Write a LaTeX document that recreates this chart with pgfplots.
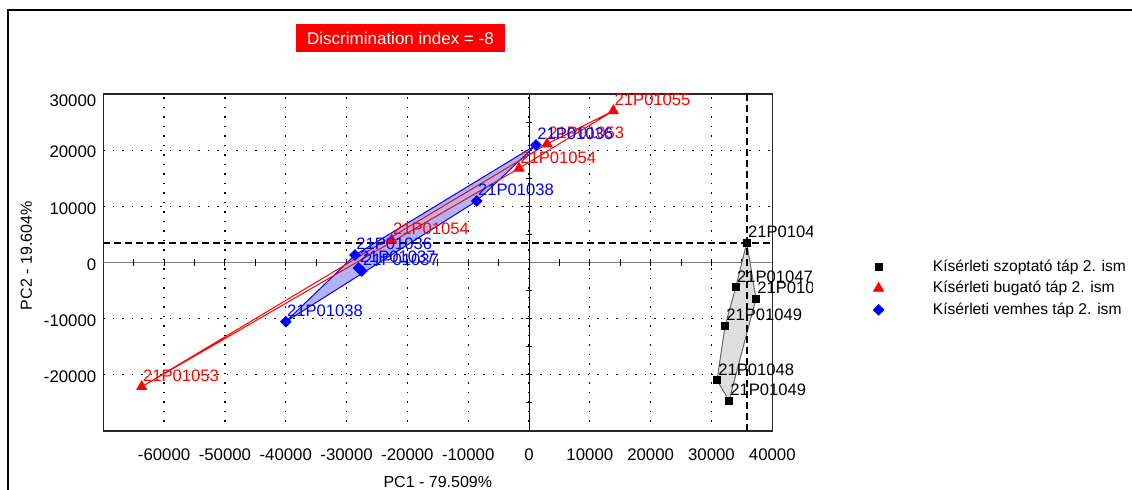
\documentclass[border=0pt]{standalone}
\usepackage{pgfplots}
\pgfplotsset{compat=1.18}
\usepackage{pgfplotstable}
\usepackage{fontspec}
\setmainfont{Liberation Sans}
\definecolor{hullblue}{RGB}{178,178,246}
\definecolor{hullgray}{RGB}{222,222,222}
\definecolor{zerogray}{RGB}{128,128,128}
\definecolor{titlered}{RGB}{255,0,0}

% Kisérleti szoptató táp 2. ism
\pgfplotstableread{
x y label
35800 3500 21P01046
33990 -4400 21P01047
37320 -6450 21P01050
32230 -11300 21P01049
30910 -20970 21P01048
32880 -24600 21P01049
}\szop
% Kisérleti bugató táp 2. ism
\pgfplotstableread{
x y label
13860 27000 21P01055
2960 21100 21P01053
-1640 16770 21P01054
-22580 4000 21P01054
-63680 -22110 21P01053
}\bug
% Kisérleti vemhes táp 2. ism
\pgfplotstableread{
x y label
1150 20920 21P01036
-8600 10950 21P01038
-28610 1335 21P01036
-28040 -980 21P01037
-27510 -1510 21P01037
-40000 -10540 21P01038
}\vem

\begin{document}
\begin{tikzpicture}[x=1pt,y=1pt]
% outer frame
\draw[black, line width=1pt] (4,-60) -- (4,239.7) -- (700,239.7);
% title box
\node[fill=titlered, text=white, minimum width=104.5pt, minimum height=14pt, inner sep=0pt,
      font=\fontsize{8.5}{10}\selectfont] at (200.25,225.5) {Discrimination index = -8};

\begin{scope}
\clip (0,0) rectangle (406,244.5);
\begin{axis}[
  at={(51.65pt,29pt)}, anchor=south west,
  scale only axis, width=334.5pt, height=168.5pt,
  xmin=-70000, xmax=40000, ymin=-30000, ymax=30000,
  xtick={-60000,-50000,-40000,-30000,-20000,-10000,0,10000,20000,30000,40000},
  ytick={-20000,-10000,0,10000,20000},
  extra y ticks={30000},
  extra y tick style={yticklabel style={yshift=-2.5pt}, grid=none},
  scaled ticks=false,
  tick style={draw=none},
  tick label style={font=\fontsize{8.4}{10}\selectfont},
  xticklabel style={yshift=-5.5pt},
  yticklabel style={yshift=-1pt},
  grid=major,
  major grid style={black, line width=0.65pt, dash pattern=on 0.65pt off 4.1pt},
  axis line style={black!85, line width=0.6pt},
  xlabel={PC1 - 79.509\%},
  xlabel style={at={(axis description cs:0.5,0)}, anchor=center, yshift=-25.5pt, font=\fontsize{8}{10}\selectfont},
  ylabel={PC2 - 19.604\%},
  ylabel style={at={(axis description cs:-0.1151,0.52)}, anchor=center, font=\fontsize{8}{10}\selectfont},
  /pgf/number format/1000 sep={},
  /pgf/number format/assume math mode=true,
]
% zero lines
\draw[zerogray, line width=0.85pt] (axis cs:-70000,0) -- (axis cs:40000,0);
\draw[black, line width=0.5pt] (axis cs:0,-30000) -- (axis cs:0,30000);
\pgfplotsinvokeforeach{-65000,-60000,-55000,-50000,-45000,-40000,-35000,-30000,-25000,-20000,-15000,-10000,-5000,5000,10000,15000,20000,25000,30000,35000}{
  \draw[black, line width=0.5pt] ([yshift=-1.7pt]axis cs:#1,0) -- ([yshift=1.7pt]axis cs:#1,0);
}
\pgfplotsinvokeforeach{-25000,-20000,-15000,-10000,-5000,5000,10000,15000,20000,25000}{
  \draw[black, line width=0.5pt] ([xshift=-1.7pt]axis cs:0,#1) -- ([xshift=1.7pt]axis cs:0,#1);
}
% hulls
\addplot[fill=hullgray, draw=black!60, line width=0.5pt] coordinates {
  (35800,3500) (37320,-6450) (32880,-24600) (30910,-20970) (32230,-11300) (33990,-4400) (35800,3500)};
\addplot[fill=hullblue, draw=blue, line width=0.5pt] coordinates {
  (-40000,-10540) (-28610,1335) (1150,20920) (-8600,10950) (-40000,-10540)};
\addplot[red, line width=0.5pt] coordinates {
  (-63680,-22110) (2960,21100) (13860,27000) (-1640,16770) (-63680,-22110)};
% crosshair
\draw[black, line width=1pt, dash pattern=on 3.5pt off 2pt] (axis cs:35800,-30000) -- (axis cs:35800,30000);
\draw[black, line width=1pt, dash pattern=on 3.5pt off 2pt] (axis cs:-70000,3500) -- (axis cs:40000,3500);
% points with labels
\addplot[only marks, mark=square*, mark size=1.8pt, black,
  nodes near coords, point meta=explicit symbolic,
  nodes near coords style={anchor=base west, xshift=0.5pt, yshift=2.6pt, inner sep=0pt,
    text=black, font=\fontsize{8.3}{10}\selectfont}]
  table[x=x, y=y, meta=label] {\szop};
\addplot[only marks, mark=triangle*, mark size=2.9pt, red,
  nodes near coords, point meta=explicit symbolic,
  nodes near coords style={anchor=base west, xshift=0.5pt, yshift=2.6pt, inner sep=0pt,
    text=red, font=\fontsize{8.3}{10}\selectfont}]
  table[x=x, y=y, meta=label] {\bug};
\addplot[only marks, mark=square*, mark options={rotate=45}, mark size=1.85pt, blue,
  nodes near coords, point meta=explicit symbolic,
  nodes near coords style={anchor=base west, xshift=0.5pt, yshift=2.6pt, inner sep=0pt,
    text=blue, font=\fontsize{8.3}{10}\selectfont}]
  table[x=x, y=y, meta=label] {\vem};
\end{axis}
\end{scope}

% legend (separate, unclipped axis)
\begin{axis}[
  at={(51.65pt,29pt)}, anchor=south west,
  scale only axis, width=334.5pt, height=168.5pt,
  hide axis, xmin=0, xmax=1, ymin=0, ymax=1,
  legend style={at={(1.1505,0.512)}, anchor=north west, draw=none, fill=none, inner sep=0pt,
    font=\fontsize{7.8}{9}\selectfont,
    nodes={inner sep=0pt, text height=6.2pt, text depth=1.8pt},
    row sep=2.75pt,
    /tikz/every odd column/.append style={column sep=24.5pt}},
  legend cell align=left,
  legend image code/.code={\draw[#1] plot coordinates {(0pt,0pt)};},
]
\addlegendimage{only marks, mark=square*, mark size=1.8pt, black}
\addlegendentry{Kísérleti szoptató táp 2. ism}
\addlegendimage{only marks, mark=triangle*, mark size=2.9pt, red}
\addlegendentry{Kísérleti bugató táp 2. ism}
\addlegendimage{only marks, mark=square*, mark options={rotate=45}, mark size=1.85pt, blue}
\addlegendentry{Kísérleti vemhes táp 2. ism}
\end{axis}

\pgfresetboundingbox
\useasboundingbox (0,0) rectangle (566,244.5);
\end{tikzpicture}
\end{document}
